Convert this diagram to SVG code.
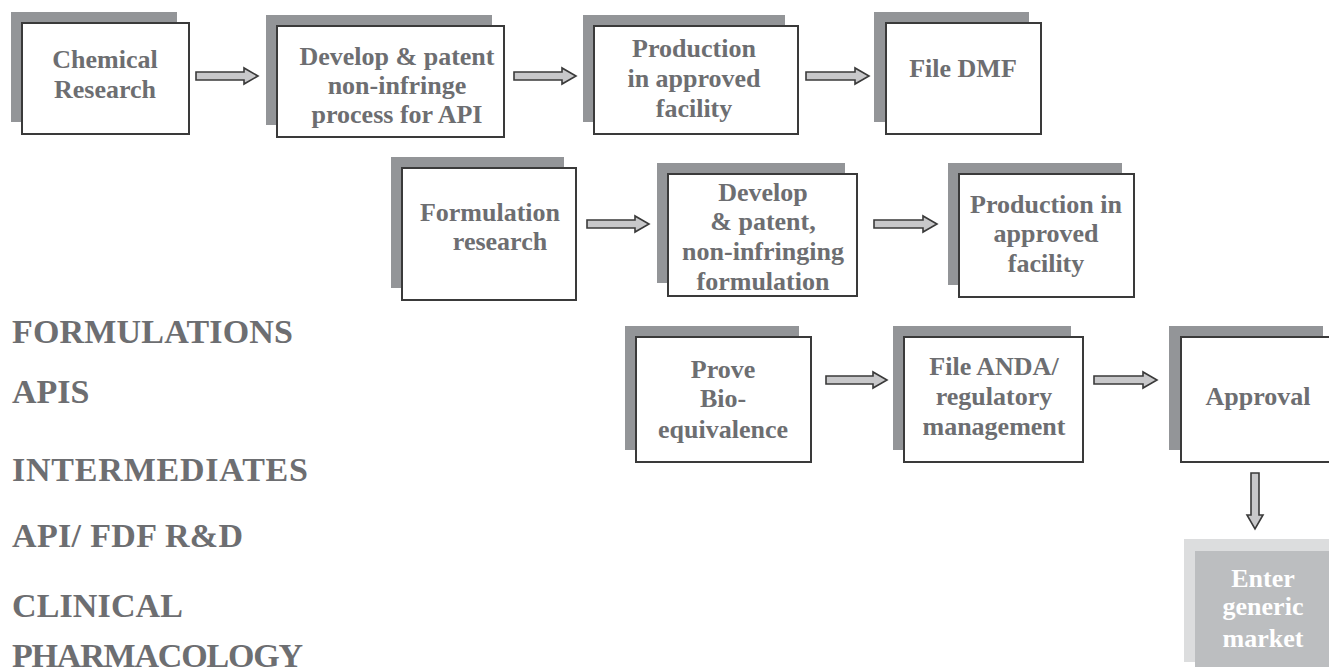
<svg xmlns="http://www.w3.org/2000/svg" width="1329" height="667" viewBox="0 0 1329 667">
<style>
.sh{fill:#939598}
.bx{fill:#ffffff;stroke:#3a3a3a;stroke-width:2}
.t{font-family:"Liberation Serif","Times New Roman",serif;font-weight:bold;font-size:26px;fill:#6d6e71;text-anchor:middle}
.lb{font-family:"Liberation Serif","Times New Roman",serif;font-weight:bold;font-size:34px;fill:#6d6e71}
.ar{fill:#c8c8ca;stroke:#3a3a3a;stroke-width:1.6;stroke-linejoin:miter}
.mo{fill:#dcddde}
.mi{fill:#bcbec0}
.tw{font-family:"Liberation Serif","Times New Roman",serif;font-weight:bold;font-size:26px;fill:#ffffff;text-anchor:middle}
</style>
<rect width="1329" height="667" fill="#ffffff"/>

<g id="chemical-research">
<rect class="sh" x="11" y="12" width="166" height="110"/>
<rect class="bx" x="22" y="23" width="167" height="111"/>
<text class="t" x="105" y="68">Chemical</text>
<text class="t" x="105" y="98">Research</text>
</g>

<g id="develop-patent-api">
<rect class="sh" x="266" y="15" width="226" height="110"/>
<rect class="bx" x="277" y="26" width="227" height="111"/>
<text class="t" x="397" y="65">Develop &amp; patent</text>
<text class="t" x="397" y="94">non-infringe</text>
<text class="t" x="397" y="123">process for API</text>
</g>

<g id="production-api">
<rect class="sh" x="583" y="15" width="202" height="107"/>
<rect class="bx" x="594" y="26" width="204" height="108"/>
<text class="t" x="694" y="57">Production</text>
<text class="t" x="694" y="87">in approved</text>
<text class="t" x="694" y="117">facility</text>
</g>

<g id="file-dmf">
<rect class="sh" x="874" y="12" width="155" height="110"/>
<rect class="bx" x="886" y="23" width="155" height="111"/>
<text class="t" x="963" y="77">File DMF</text>
</g>

<g id="formulation-research">
<rect class="sh" x="391" y="157" width="173" height="131"/>
<rect class="bx" x="402" y="168" width="174" height="132"/>
<text class="t" x="490" y="221">Formulation</text>
<text class="t" x="500" y="250">research</text>
</g>

<g id="develop-formulation">
<rect class="sh" x="657" y="163" width="188" height="120"/>
<rect class="bx" x="668" y="174" width="189" height="122"/>
<text class="t" x="763" y="201">Develop</text>
<text class="t" x="763" y="230">&amp; patent,</text>
<text class="t" x="763" y="260">non-infringing</text>
<text class="t" x="763" y="290">formulation</text>
</g>

<g id="production-formulation">
<rect class="sh" x="948" y="163" width="174" height="122"/>
<rect class="bx" x="959" y="174" width="175" height="123"/>
<text class="t" x="1046" y="213">Production in</text>
<text class="t" x="1046" y="242">approved</text>
<text class="t" x="1046" y="272">facility</text>
</g>

<g id="prove-bioequivalence">
<rect class="sh" x="625" y="326" width="174" height="124"/>
<rect class="bx" x="636" y="337" width="175" height="125"/>
<text class="t" x="723" y="378">Prove</text>
<text class="t" x="723" y="407">Bio-</text>
<text class="t" x="723" y="438">equivalence</text>
</g>

<g id="file-anda">
<rect class="sh" x="893" y="326" width="178" height="124"/>
<rect class="bx" x="904" y="337" width="179" height="125"/>
<text class="t" x="994" y="375">File ANDA/</text>
<text class="t" x="994" y="405">regulatory</text>
<text class="t" x="994" y="435">management</text>
</g>

<g id="approval">
<rect class="sh" x="1169" y="326" width="154" height="124"/>
<rect class="bx" x="1181" y="337" width="160" height="125"/>
<text class="t" x="1258" y="405">Approval</text>
</g>

<g id="enter-generic-market">
<rect class="mo" x="1184" y="539" width="150" height="123"/>
<rect class="mi" x="1195" y="551" width="140" height="120"/>
<text class="tw" x="1263" y="587">Enter</text>
<text class="tw" x="1263" y="615">generic</text>
<text class="tw" x="1263" y="647">market</text>
</g>

<g id="connectors">
<path class="ar" d="M196,72 H244 V68 L258,76 L244,84 V80 H196 Z"/>
<path class="ar" d="M514,72 H562 V68 L576,76 L562,84 V80 H514 Z"/>
<path class="ar" d="M806,72 H855 V68 L869,76 L855,84 V80 H806 Z"/>
<path class="ar" d="M587,220 H635 V216 L649,224 L635,232 V228 H587 Z"/>
<path class="ar" d="M874,220 H923 V216 L937,224 L923,232 V228 H874 Z"/>
<path class="ar" d="M826,376 H873 V372 L887,380 L873,388 V384 H826 Z"/>
<path class="ar" d="M1094,376 H1143 V372 L1157,380 L1143,388 V384 H1094 Z"/>
<path class="ar" d="M1251,473 V515 H1247 L1255,529 L1263,515 H1259 V473 Z"/>
</g>

<g id="labels">
<text class="lb" x="12" y="343" textLength="281" lengthAdjust="spacing">FORMULATIONS</text>
<text class="lb" x="12" y="403">APIS</text>
<text class="lb" x="12" y="481" textLength="296" lengthAdjust="spacing">INTERMEDIATES</text>
<text class="lb" x="12" y="547" textLength="231" lengthAdjust="spacing">API/ FDF R&amp;D</text>
<text class="lb" x="12" y="617" textLength="171" lengthAdjust="spacing">CLINICAL</text>
<text class="lb" x="12" y="667" textLength="291" lengthAdjust="spacing">PHARMACOLOGY</text>
</g>
</svg>
